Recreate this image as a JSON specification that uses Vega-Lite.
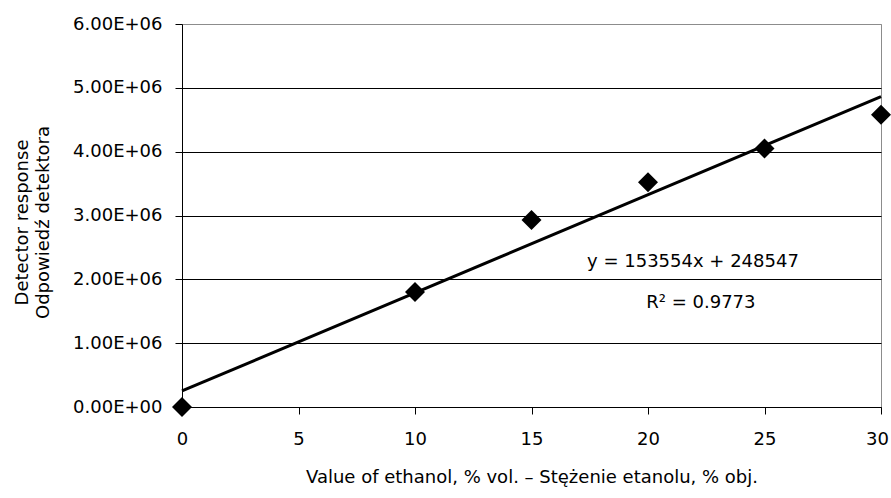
{
  "$schema": "https://vega.github.io/schema/vega-lite/v6.json",
  "width": 699,
  "height": 383,
  "autosize": {"type": "none"},
  "padding": {"left": 182, "top": 24, "right": 10, "bottom": 91},
  "background": "white",
  "config": {
    "view": {"stroke": "#8c8c8c", "strokeWidth": 1},
    "font": "DejaVu Sans"
  },
  "datasets": {
    "points": [
      {"ethanol": 0, "response": 0},
      {"ethanol": 10, "response": 1800000},
      {"ethanol": 15, "response": 2930000},
      {"ethanol": 20, "response": 3520000},
      {"ethanol": 25, "response": 4050000},
      {"ethanol": 30, "response": 4580000}
    ],
    "equation": [{"note": "y = 153554x + 248547"}],
    "rsquared": [{"note": "R² = 0.9773"}]
  },
  "layer": [
    {
      "data": {"name": "points"},
      "transform": [{"regression": "response", "on": "ethanol", "extent": [0, 30]}],
      "mark": {"type": "line", "color": "black", "strokeWidth": 3},
      "encoding": {
        "x": {
          "field": "ethanol", "type": "quantitative",
          "scale": {"domain": [0, 30], "nice": false, "zero": true},
          "axis": {
            "values": [0, 5, 10, 15, 20, 25, 30],
            "grid": false,
            "tickSize": 7, "tickColor": "black", "tickWidth": 1,
            "domainColor": "black", "domainWidth": 1,
            "labelFontSize": 18, "labelColor": "black", "labelPadding": 16, "labelFlush": false,
            "labelOffset": {"condition": {"test": "datum.value == 30", "value": -4}, "value": 0},
            "title": "Value of ethanol, % vol. – Stężenie etanolu, % obj.",
            "titleFontSize": 18, "titleFontWeight": "normal", "titleColor": "black",
            "titleY": 61, "titleBaseline": "top"
          }
        },
        "y": {
          "field": "response", "type": "quantitative",
          "scale": {"domain": [0, 6000000], "nice": false},
          "axis": {
            "values": [0, 1000000, 2000000, 3000000, 4000000, 5000000, 6000000],
            "labelExpr": "datum.value == 0 ? '0.00E+00' : format(datum.value / 1000000, '.2f') + 'E+06'",
            "grid": true,
            "gridColor": {"condition": {"test": "datum.value == 6000000", "value": "#8c8c8c"}, "value": "black"},
            "gridWidth": 1,
            "tickSize": 7, "tickColor": "black", "tickWidth": 1,
            "domainColor": "black", "domainWidth": 1,
            "labelFontSize": 18, "labelColor": "black", "labelPadding": 13, "labelFlush": false,
            "title": ["Detector response", "Odpowiedź detektora"],
            "titleFontSize": 18, "titleFontWeight": "normal", "titleColor": "black",
            "titleAngle": -90, "titleX": -155, "titleY": 198,
            "titleBaseline": "alphabetic", "titleAlign": "center", "titleLineHeight": 21
          }
        }
      }
    },
    {
      "data": {"name": "points"},
      "mark": {"type": "point", "shape": "diamond", "filled": true, "size": 400, "color": "black", "opacity": 1},
      "encoding": {
        "x": {"field": "ethanol", "type": "quantitative"},
        "y": {"field": "response", "type": "quantitative"}
      }
    },
    {
      "data": {"name": "equation"},
      "mark": {"type": "text", "fontSize": 18, "fontWeight": "normal", "fill": "black", "align": "center", "baseline": "alphabetic"},
      "encoding": {
        "text": {"field": "note"},
        "x": {"datum": 21.93},
        "y": {"datum": 2193000}
      }
    },
    {
      "data": {"name": "rsquared"},
      "mark": {"type": "text", "fontSize": 18, "fontWeight": "normal", "fill": "black", "align": "center", "baseline": "alphabetic"},
      "encoding": {
        "text": {"field": "note"},
        "x": {"datum": 22.27},
        "y": {"datum": 1551000}
      }
    }
  ]
}
